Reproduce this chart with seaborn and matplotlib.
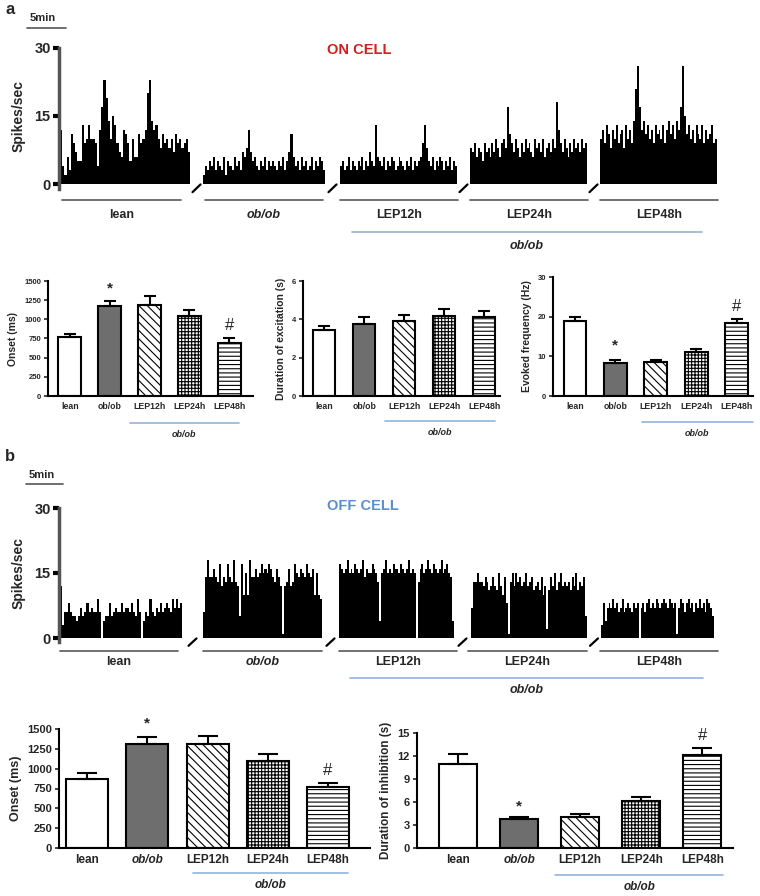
import numpy as np
import pandas as pd
import matplotlib
matplotlib.use('Agg')
import matplotlib.pyplot as plt
import seaborn as sns
from matplotlib.transforms import blended_transform_factory

# ---------------- data ----------------
trace_labels = ['lean', 'ob/ob', 'LEP12h', 'LEP24h', 'LEP48h']

on_lean = [12,4,2,6,3,11,9,7,5,5, 13,9,10,13,10,10,9,4,12,17, 23,19,14,10,15,13,9,7,6,12,
           11,9,5,10,6,6,11,9,10,12, 20,23,14,12,13,10,8,11,9,10, 8,10,7,11,9,10,8,9,10,7]
on_obob = [2,4,3,5,4,6,3,5,4,3, 6,2,5,4,3,6,4,5,3,7, 6,8,12,7,5,6,4,3,5,4,
           6,3,5,4,5,4,3,5,4,6, 3,5,7,11,6,4,5,3,6,4, 5,3,4,6,3,5,4,6,5,3]
on_lep12 = [4,5,3,4,6,3,5,4,3,5, 4,6,3,5,4,7,5,4,13,6, 5,4,6,3,5,4,6,5,3,4,
            6,5,4,3,5,4,6,3,5,4, 5,6,9,13,8,5,4,6,3,5, 4,6,5,3,5,4,6,3,5,4]
on_lep24 = [8,7,9,6,8,7,5,9,7,8, 6,9,7,10,8,6,9,10,8,17, 11,9,7,10,8,6,9,7,10,8,
            9,7,6,10,8,9,7,10,6,8, 9,7,10,8,18,12,9,7,10,8, 6,9,7,10,8,9,7,10,8,9]
on_lep48 = [10,12,9,13,11,8,12,10,13,9, 11,12,8,13,10,12,9,14,21,26, 17,12,14,11,13,10,12,9,13,11,
            12,10,13,9,12,14,11,13,10,14, 12,17,26,15,11,13,10,12,9,13, 11,10,13,9,12,10,11,13,9,10]

off_lean = [12,3,6,6,8,6,5,5,4,5, 7,5,6,8,6,7,6,6,9,6, 0,4,5,5,8,5,6,7,6,6,
            8,6,7,7,6,8,6,5,9,6, 0,4,6,5,9,6,5,7,6,8, 6,7,8,7,6,9,7,9,7,8]
off_obob = [6,14,18,14,14,16,14,13,17,12, 14,13,17,14,13,18,13,12,5,17, 10,15,10,18,14,14,16,14,15,17,
            15,16,15,17,16,14,13,16,14,12, 1,12,13,16,12,13,17,15,14,16, 15,14,17,15,14,16,10,15,10,9]
off_lep12 = [17,16,15,16,18,15,16,15,17,16, 15,16,18,14,16,15,15,17,16,15, 13,4,15,16,18,15,16,15,17,16,
             16,15,17,16,15,16,18,15,16,15, 0,13,16,17,15,16,18,16,15,17, 16,15,16,18,15,16,17,15,14,4]
off_lep24 = [7,13,13,15,13,13,12,14,13,11, 12,14,12,11,15,12,10,14,8,1, 13,15,12,15,13,14,12,13,15,12,
             13,14,11,12,13,11,14,10,12,2, 11,14,12,15,11,13,15,12,13,12, 13,11,14,12,15,11,13,12,14,5]
off_lep48 = [3,8,4,7,8,7,9,7,8,6, 7,9,6,7,8,7,6,8,7,8, 0,7,8,6,8,9,7,8,7,9,
             8,7,8,9,8,7,9,8,7,8, 1,7,9,8,6,8,9,7,8,6, 8,7,9,7,8,6,9,8,7,5]

groups = ['lean', 'ob/ob', 'LEP12h', 'LEP24h', 'LEP48h']

onset_on = [770, 1180, 1185, 1045, 690]
onset_on_err = [45, 55, 115, 80, 70]
exc_dur = [3.45, 3.76, 3.90, 4.17, 4.10]
exc_dur_err = [0.18, 0.34, 0.34, 0.37, 0.35]
evoked = [19.0, 8.3, 8.5, 11.0, 18.5]
evoked_err = [1.0, 0.9, 0.6, 0.8, 0.8]

onset_off = [870, 1310, 1305, 1100, 765]
onset_off_err = [80, 85, 110, 85, 55]
inh_dur = [11.0, 3.76, 4.02, 6.18, 12.1]
inh_dur_err = [1.2, 0.22, 0.39, 0.43, 0.95]

# ---------------- style ----------------
sns.set_theme(style='ticks')
plt.rcParams['font.family'] = ['Liberation Sans', 'DejaVu Sans']
plt.rcParams['hatch.linewidth'] = 0.8

W, H = 760, 896
fig = plt.figure(figsize=(W / 100, H / 100), dpi=100)
BLUE_LINE = '#94b3da'


def add_ax(x0, y0, x1, y1):
    return fig.add_axes([x0 / W, 1 - y1 / H, (x1 - x0) / W, (y1 - y0) / H])


def fy(py):
    return 1 - py / H


def draw_trace(ax, segs, spans, unders, ax_x, under_y, label_y, blue, obob_y):
    # x axis in figure pixel units
    for vals, (s0, s1) in zip(segs, spans):
        n = len(vals)
        bw = (s1 - s0) / n
        x = s0 + bw * np.arange(n)
        ax.bar(x, vals, width=bw * 1.02, align='edge', color='black', linewidth=0)
    ax.set_xlim(*ax_x)
    ax.set_ylim(0, 30)
    ax.set_yticks([0, 15, 30])
    ax.set_yticklabels(['0', '15', '30'], fontsize=10.5, fontweight='bold')
    ax.tick_params(axis='y', length=4, width=3, color='black', pad=2)
    ax.set_xticks([])
    for s in ['top', 'right', 'bottom']:
        ax.spines[s].set_visible(False)
    ax.spines['left'].set_color('#555555')
    ax.spines['left'].set_linewidth(2.5)
    ax.spines['left'].set_bounds(-1, 30)
    ax.set_ylabel('Spikes/sec', fontsize=10, fontweight='bold', labelpad=6)
    ax.set_facecolor('none')
    tr = blended_transform_factory(ax.transData, fig.transFigure)
    for i, (u0, u1) in enumerate(unders):
        ax.plot([u0, u1], [fy(under_y)] * 2, transform=tr, color='#666666',
                lw=1.3, clip_on=False)
        style = 'italic' if trace_labels[i] == 'ob/ob' else 'normal'
        ax.text((u0 + u1) / 2, fy(label_y), trace_labels[i], transform=tr, ha='center',
                va='center', fontsize=9, fontweight='bold', fontstyle=style)
    for i in range(len(spans) - 1):
        g = (spans[i][1] + spans[i + 1][0]) / 2
        ax.plot([g - 4, g + 4], [-1.8, -0.1], color='black', lw=1.6, clip_on=False)
    b0, b1, by = blue
    ax.plot([b0, b1], [fy(by)] * 2, transform=tr, color=BLUE_LINE, lw=1.2, clip_on=False)
    ax.text((b0 + b1) / 2, fy(obob_y), 'ob/ob', transform=tr,
            ha='center', va='center', fontsize=9, fontweight='bold', fontstyle='italic')


def draw_bars(ax, vals, errs, ymax, yticks, xlim, width, cap, lab_fs, tick_fs,
              italic, ylabel, ylab_fs, blue, sym):
    df = pd.DataFrame({'group': groups, 'value': vals})
    sns.barplot(data=df, x='group', y='value', ax=ax, color='white', width=width,
                edgecolor='black', linewidth=1.5, errorbar=None, saturation=1)
    fills = ['white', '#6e6e6e', 'white', 'white', 'white']
    hatches = [None, None, '\\\\\\\\', '+++++', '----']
    for p, f, h in zip(ax.patches, fills, hatches):
        p.set_facecolor(f)
        p.set_edgecolor('black')
        if h:
            p.set_hatch(h)
    x = np.arange(len(vals))
    ax.errorbar(x, vals, yerr=[np.zeros(len(vals)), errs], fmt='none', ecolor='black',
                elinewidth=1.5, capsize=cap, capthick=1.5, zorder=1)
    ax.set_xlim(*xlim)
    ax.set_ylim(0, ymax)
    ax.set_yticks(yticks)
    ax.set_yticklabels([str(t) for t in yticks], fontsize=tick_fs, fontweight='bold')
    ax.set_xticks(x)
    ax.set_xticklabels(groups, fontsize=lab_fs, fontweight='bold')
    if italic:
        ax.get_xticklabels()[1].set_fontstyle('italic')
    ax.tick_params(axis='x', length=0, pad=4)
    ax.tick_params(axis='y', length=3, width=1.2, pad=2)
    ax.set_xlabel('')
    ax.set_ylabel(ylabel, fontsize=ylab_fs, fontweight='bold')
    for s in ['top', 'right']:
        ax.spines[s].set_visible(False)
    for s in ['left', 'bottom']:
        ax.spines[s].set_linewidth(1.5)
        ax.spines[s].set_color('black')
    ax.set_facecolor('none')
    tr = blended_transform_factory(ax.transData, fig.transFigure)
    bx0, bx1, by, ty, tfs = blue
    ax.plot([bx0, bx1], [fy(by)] * 2, transform=tr, color=BLUE_LINE, lw=1.2, clip_on=False)
    ax.text((bx0 + bx1) / 2, fy(ty), 'ob/ob', transform=tr, ha='center', va='center',
            fontsize=tfs, fontweight='bold', fontstyle='italic')
    if sym is not None:
        star_off, hash_off, sfs = sym
        ax.annotate('*', xy=(1, vals[1] + errs[1]), xytext=(0, star_off),
                    textcoords='offset points', ha='center', va='center',
                    fontsize=sfs, fontweight='bold')
        ax.annotate('#', xy=(4, vals[4] + errs[4]), xytext=(0, hash_off),
                    textcoords='offset points', ha='center', va='center', fontsize=sfs + 1)


# ---------------- panel a ----------------
fig.text(5 / W, fy(10), 'a', fontsize=12, fontweight='bold', va='center')
fig.text(30 / W, fy(18), '5min', fontsize=8, fontweight='bold', va='center')
fig.add_artist(plt.Line2D([27 / W, 66 / W], [fy(28)] * 2, color='#555555', lw=1.2))
fig.text(359 / W, fy(50), 'ON CELL', fontsize=10.5, fontweight='bold', color='#d0201f',
         ha='center', va='center')

ax_on = add_ax(59, 48, 720, 184)
draw_trace(ax_on, [on_lean, on_obob, on_lep12, on_lep24, on_lep48],
           spans=[(60, 190), (203, 325), (340, 457), (470, 587), (600, 717)],
           unders=[(62, 181), (205, 323), (340, 458), (470, 588), (600, 718)],
           ax_x=(59, 720), under_y=200, label_y=215, blue=(352, 702, 232), obob_y=246)

ax_a1 = add_ax(48, 281, 253, 396)
draw_bars(ax_a1, onset_on, onset_on_err, 1500, [0, 250, 500, 750, 1000, 1250, 1500],
          (-0.55, 4.6), 0.58, 4.5, 6.3, 5.5, False, 'Onset (ms)', 7.5,
          (1.5, 4.25, 423, 434, 6.5), (9, 9, 11))

ax_a2 = add_ax(303, 281, 500, 396)
draw_bars(ax_a2, exc_dur, exc_dur_err, 6, [0, 2, 4, 6],
          (-0.53, 4.4), 0.56, 4.5, 6.3, 5.5, False, 'Duration of excitation (s)', 7.5,
          (1.52, 4.27, 421, 432, 6.5), None)

ax_a3 = add_ax(553, 277, 753, 396)
draw_bars(ax_a3, evoked, evoked_err, 30, [0, 10, 20, 30],
          (-0.54, 4.4), 0.56, 4.5, 6.3, 5.5, False, 'Evoked frequency (Hz)', 7.5,
          (1.65, 4.4, 422, 433, 6.5), (10, 9, 11))

# ---------------- panel b ----------------
fig.text(5 / W, fy(456), 'b', fontsize=12, fontweight='bold', va='center')
fig.text(29 / W, fy(475), '5min', fontsize=8, fontweight='bold', va='center')
fig.add_artist(plt.Line2D([26 / W, 63 / W], [fy(484)] * 2, color='#555555', lw=1.2))
fig.text(363 / W, fy(506), 'OFF CELL', fontsize=10.5, fontweight='bold', color='#5b8fcc',
         ha='center', va='center')

ax_off = add_ax(59, 508, 720, 638)
draw_trace(ax_off, [off_lean, off_obob, off_lep12, off_lep24, off_lep48],
           spans=[(60, 182), (203, 322), (339, 454), (471, 587), (601, 714)],
           unders=[(60, 178), (203, 322), (339, 457), (468, 587), (600, 718)],
           ax_x=(59, 720), under_y=651, label_y=662, blue=(350, 703, 678), obob_y=690)

ax_b1 = add_ax(59, 729, 370, 848)
draw_bars(ax_b1, onset_off, onset_off_err, 1500, [0, 250, 500, 750, 1000, 1250, 1500],
          (-0.47, 4.7), 0.7, 7, 8.5, 8, True, 'Onset (ms)', 9,
          (1.76, 4.33, 873, 885, 8.5), (10, 9, 11))

ax_b2 = add_ax(417, 733, 733, 848)
draw_bars(ax_b2, inh_dur, inh_dur_err, 15, [0, 3, 6, 9, 12, 15],
          (-0.67, 4.5), 0.62, 7, 8.5, 8, True, 'Duration of inhibition (s)', 8.5,
          (1.59, 4.34, 875, 887, 8.5), (8, 9, 11))

fig.savefig('out.png', dpi=100)
